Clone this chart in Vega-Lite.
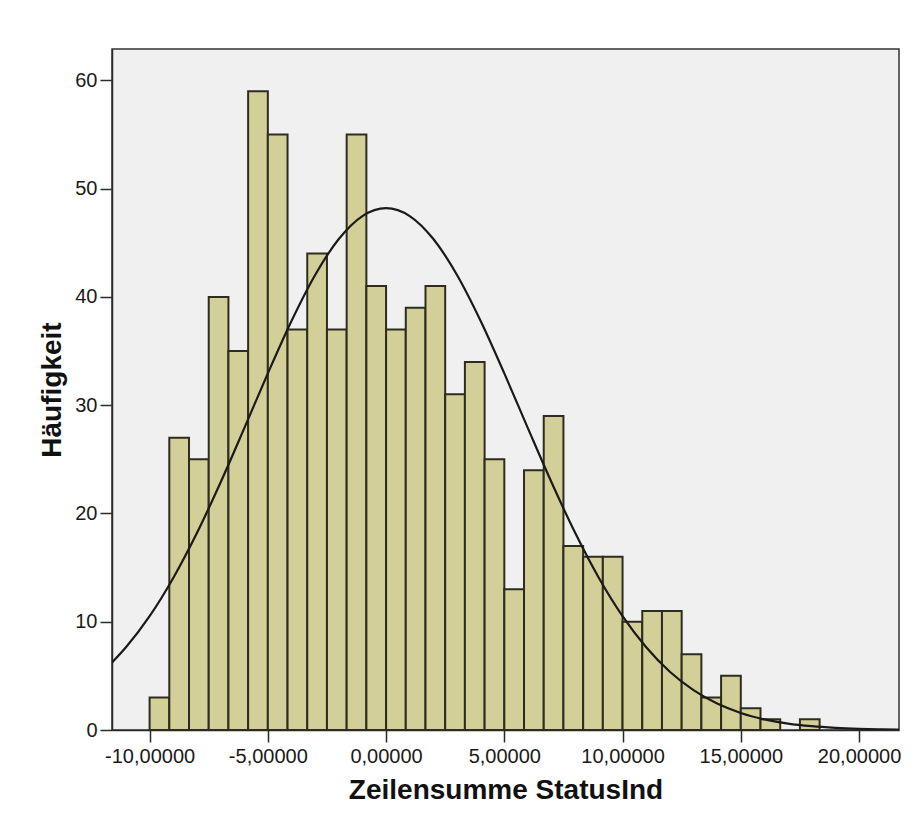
{
  "$schema": "https://vega.github.io/schema/vega-lite/v6.json",
  "autosize": {"type": "none"},
  "padding": {"left": 112, "top": 49, "right": 25, "bottom": 98},
  "width": 787,
  "height": 681,
  "background": "#ffffff",
  "config": {
    "locale": {"number": {"decimal": ",", "thousands": ".", "grouping": [3], "currency": ["", " €"], "minus": "-"}},
    "view": {"fill": "#f0f0f0", "stroke": "#333333", "strokeWidth": 1.5},
    "axis": {
      "labelFont": "Liberation Sans", "labelFontSize": 20, "labelColor": "#1a1a1a",
      "titleFont": "Liberation Sans", "titleFontSize": 28, "titleFontWeight": "bold", "titleColor": "#111111",
      "domainColor": "#2a2a2a", "domainWidth": 1.5, "tickColor": "#2a2a2a", "tickWidth": 1.5, "tickSize": 12,
      "grid": false
    }
  },
  "datasets": {
    "bins": [
      {"start": -10, "end": -9.1667, "count": 3},
      {"start": -9.1667, "end": -8.3333, "count": 27},
      {"start": -8.3333, "end": -7.5, "count": 25},
      {"start": -7.5, "end": -6.6667, "count": 40},
      {"start": -6.6667, "end": -5.8333, "count": 35},
      {"start": -5.8333, "end": -5, "count": 59},
      {"start": -5, "end": -4.1667, "count": 55},
      {"start": -4.1667, "end": -3.3333, "count": 37},
      {"start": -3.3333, "end": -2.5, "count": 44},
      {"start": -2.5, "end": -1.6667, "count": 37},
      {"start": -1.6667, "end": -0.8333, "count": 55},
      {"start": -0.8333, "end": 0, "count": 41},
      {"start": 0, "end": 0.8333, "count": 37},
      {"start": 0.8333, "end": 1.6667, "count": 39},
      {"start": 1.6667, "end": 2.5, "count": 41},
      {"start": 2.5, "end": 3.3333, "count": 31},
      {"start": 3.3333, "end": 4.1667, "count": 34},
      {"start": 4.1667, "end": 5, "count": 25},
      {"start": 5, "end": 5.8333, "count": 13},
      {"start": 5.8333, "end": 6.6667, "count": 24},
      {"start": 6.6667, "end": 7.5, "count": 29},
      {"start": 7.5, "end": 8.3333, "count": 17},
      {"start": 8.3333, "end": 9.1667, "count": 16},
      {"start": 9.1667, "end": 10, "count": 16},
      {"start": 10, "end": 10.8333, "count": 10},
      {"start": 10.8333, "end": 11.6667, "count": 11},
      {"start": 11.6667, "end": 12.5, "count": 11},
      {"start": 12.5, "end": 13.3333, "count": 7},
      {"start": 13.3333, "end": 14.1667, "count": 3},
      {"start": 14.1667, "end": 15, "count": 5},
      {"start": 15, "end": 15.8333, "count": 2},
      {"start": 15.8333, "end": 16.6667, "count": 1},
      {"start": 17.5, "end": 18.3333, "count": 1}
    ],
    "curve": [
      {"x": -11.6, "y": 6.21},
      {"x": -11, "y": 7.64},
      {"x": -10, "y": 10.51},
      {"x": -9, "y": 14.04},
      {"x": -8, "y": 18.19},
      {"x": -7, "y": 22.86},
      {"x": -6, "y": 27.86},
      {"x": -5, "y": 32.94},
      {"x": -4, "y": 37.78},
      {"x": -3, "y": 42.03},
      {"x": -2, "y": 45.35},
      {"x": -1, "y": 47.47},
      {"x": 0, "y": 48.2},
      {"x": 1, "y": 47.47},
      {"x": 2, "y": 45.35},
      {"x": 3, "y": 42.03},
      {"x": 4, "y": 37.78},
      {"x": 5, "y": 32.94},
      {"x": 6, "y": 27.86},
      {"x": 7, "y": 22.86},
      {"x": 8, "y": 18.19},
      {"x": 9, "y": 14.04},
      {"x": 10, "y": 10.51},
      {"x": 11, "y": 7.64},
      {"x": 12, "y": 5.38},
      {"x": 13, "y": 3.68},
      {"x": 14, "y": 2.44},
      {"x": 15, "y": 1.57},
      {"x": 16, "y": 0.98},
      {"x": 17, "y": 0.59},
      {"x": 18, "y": 0.35},
      {"x": 19, "y": 0.2},
      {"x": 20, "y": 0.11},
      {"x": 21, "y": 0.06},
      {"x": 21.69, "y": 0.04}
    ]
  },
  "layer": [
    {
      "data": {"name": "bins"},
      "mark": {"type": "rect", "fill": "#d3cf98", "stroke": "#2e2c1f", "strokeWidth": 2},
      "encoding": {
        "x": {
          "field": "start", "type": "quantitative",
          "scale": {"domain": [-11.59, 21.69], "nice": false, "zero": false},
          "axis": {"values": [-10, -5, 0, 5, 10, 15, 20], "format": ".5f", "title": "Zeilensumme StatusInd", "labelPadding": 4, "titlePadding": 10}
        },
        "x2": {"field": "end"},
        "y": {
          "field": "count", "type": "quantitative",
          "scale": {"domain": [0, 62.9], "nice": false},
          "axis": {"values": [0, 10, 20, 30, 40, 50, 60], "title": "Häufigkeit", "labelPadding": 3, "titlePadding": 8}
        },
        "y2": {"datum": 0}
      }
    },
    {
      "data": {"name": "curve"},
      "mark": {"type": "line", "color": "#1a1a1a", "strokeWidth": 2.2, "interpolate": "monotone", "clip": true},
      "encoding": {
        "x": {"field": "x", "type": "quantitative"},
        "y": {"field": "y", "type": "quantitative"}
      }
    }
  ]
}
